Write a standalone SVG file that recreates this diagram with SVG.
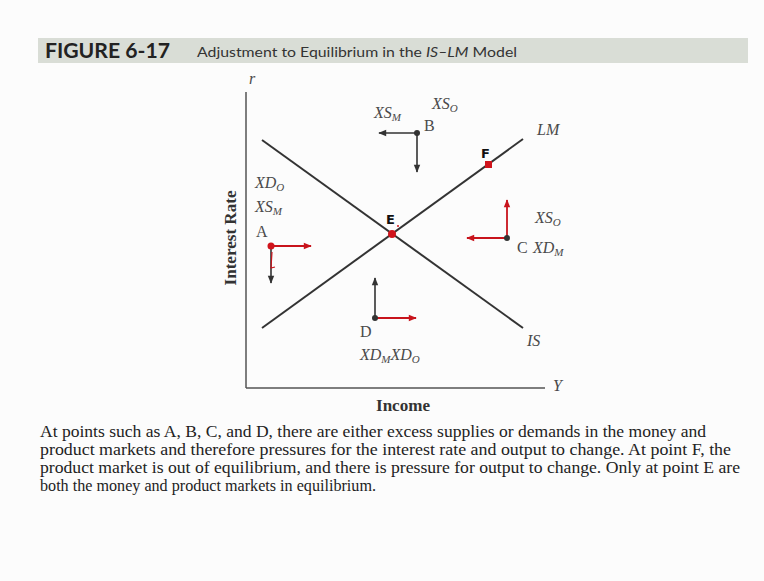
<svg xmlns="http://www.w3.org/2000/svg" width="764" height="581" viewBox="0 0 764 581">
<style>
.ax{stroke:#555;stroke-width:1.5;fill:none}
.ln{stroke:#333;stroke-width:2;fill:none}
.ab{stroke:#333;stroke-width:1.6;fill:none}
.ar{stroke:#c8141c;stroke-width:1.8;fill:none}
.lbl{font-family:"Liberation Serif",serif;font-style:italic;font-size:16px;fill:#4a4a4a}
.sub{font-size:11px}
.pt{font-family:"Liberation Serif",serif;font-size:16px;fill:#4a4a4a}
.cap{font-family:"Liberation Serif",serif;font-size:16px;fill:#222}
</style>
<defs>
<marker id="mb" viewBox="0 0 10 10" refX="9" refY="5" markerWidth="9" markerHeight="8" orient="auto" markerUnits="userSpaceOnUse"><path d="M0,1 L10,5 L0,9 Z" fill="#333"/></marker>
<marker id="mr" viewBox="0 0 10 10" refX="9" refY="5" markerWidth="10" markerHeight="8" orient="auto" markerUnits="userSpaceOnUse"><path d="M0,1 L10,5 L0,9 Z" fill="#c8141c"/></marker>
</defs>
<rect width="764" height="581" fill="#fcfcfc"/>
<g id="title">
<rect x="38" y="38" width="710" height="25" fill="#d9ddd6"/>
<text x="45" y="58" font-family="Lato,sans-serif" font-weight="700" font-size="20" fill="#222" textLength="125" lengthAdjust="spacingAndGlyphs">FIGURE 6-17</text>
<text x="197" y="57" font-family="Lato,sans-serif" font-size="14" fill="#333" textLength="320" lengthAdjust="spacingAndGlyphs">Adjustment to Equilibrium in the <tspan font-style="italic">IS–LM</tspan> Model</text>
</g>
<g id="axes">
<line class="ax" x1="246" y1="92" x2="246" y2="388"/>
<line class="ax" x1="246" y1="388" x2="545" y2="388"/>
<text x="249" y="84" class="lbl" font-size="12">r</text>
<text x="553" y="391" class="lbl" font-size="14">Y</text>
<text transform="translate(236,238) rotate(-90)" text-anchor="middle" font-family="Liberation Serif,serif" font-weight="700" font-size="16" fill="#333" textLength="95" lengthAdjust="spacingAndGlyphs">Interest Rate</text>
<text x="403" y="411" text-anchor="middle" font-family="Liberation Serif,serif" font-weight="700" font-size="16" fill="#333" textLength="54" lengthAdjust="spacingAndGlyphs">Income</text>
</g>
<g id="curves">
<line class="ln" x1="262" y1="140" x2="523" y2="328"/>
<line class="ln" x1="262" y1="328" x2="523" y2="139"/>
<text x="537" y="135" class="lbl" font-size="15">LM</text>
<text x="527" y="346" class="lbl" font-size="15">IS</text>
</g>
<g id="connectors">
<line class="ab" x1="417" y1="133" x2="379" y2="133" marker-end="url(#mb)"/>
<line class="ab" x1="417" y1="133" x2="417" y2="172" marker-end="url(#mb)"/>
<line class="ar" x1="271" y1="246" x2="311" y2="246" marker-end="url(#mr)"/>
<line class="ab" x1="271" y1="246" x2="271" y2="283" marker-end="url(#mb)"/>
<path d="M272,252 L271,268 L275,267" stroke="#c8141c" stroke-width="1.2" fill="none"/>
<line class="ar" x1="507" y1="238" x2="467" y2="238" marker-end="url(#mr)"/>
<line class="ar" x1="507" y1="238" x2="507" y2="200" marker-end="url(#mr)"/>
<line class="ab" x1="375" y1="318" x2="375" y2="278" marker-end="url(#mb)"/>
<line class="ar" x1="375" y1="318" x2="416" y2="318" marker-end="url(#mr)"/>
</g>
<g id="nodeE">
<circle cx="392" cy="234" r="4" fill="#d0141c"/>
<circle cx="398" cy="226" r="1" fill="#d0141c"/>
<text x="386" y="224" font-family="DejaVu Sans,sans-serif" font-weight="700" font-size="13" fill="#111">E</text>
</g>
<g id="nodeF">
<rect x="485" y="161" width="7" height="7" fill="#d0141c"/>
<text x="481" y="158" font-family="DejaVu Sans,sans-serif" font-weight="700" font-size="13" fill="#111">F</text>
</g>
<g id="nodeA">
<circle cx="271" cy="246" r="3.5" fill="#d0141c"/>
<text x="256" y="237" class="pt">A</text>
<text x="255" y="188" class="lbl">XD<tspan class="sub" dy="3">O</tspan></text>
<text x="255" y="212" class="lbl">XS<tspan class="sub" dy="3">M</tspan></text>
</g>
<g id="nodeB">
<circle cx="417" cy="133" r="3" fill="#333"/>
<text x="424" y="131" class="pt">B</text>
<text x="374" y="118" class="lbl">XS<tspan class="sub" dy="3">M</tspan></text>
<text x="432" y="109" class="lbl">XS<tspan class="sub" dy="3">O</tspan></text>
</g>
<g id="nodeC">
<circle cx="507" cy="238" r="3" fill="#333"/>
<text x="517" y="253" class="pt">C</text>
<text x="533" y="253" class="lbl">XD<tspan class="sub" dy="3">M</tspan></text>
<text x="535" y="223" class="lbl">XS<tspan class="sub" dy="3">O</tspan></text>
</g>
<g id="nodeD">
<circle cx="375" cy="318" r="3" fill="#333"/>
<text x="360" y="337" class="pt">D</text>
<text x="360" y="360" class="lbl">XD<tspan class="sub" dy="3">M</tspan><tspan dy="-3">XD</tspan><tspan class="sub" dy="3">O</tspan></text>
</g>
<g id="caption">
<text x="40" y="437" class="cap" textLength="666" lengthAdjust="spacingAndGlyphs">At points such as A, B, C, and D, there are either excess supplies or demands in the money and</text>
<text x="40" y="455" class="cap" textLength="691" lengthAdjust="spacingAndGlyphs">product markets and therefore pressures for the interest rate and output to change. At point F, the</text>
<text x="40" y="473" class="cap" textLength="700" lengthAdjust="spacingAndGlyphs">product market is out of equilibrium, and there is pressure for output to change. Only at point E are</text>
<text x="40" y="491" class="cap" textLength="336" lengthAdjust="spacingAndGlyphs">both the money and product markets in equilibrium.</text>
</g>
</svg>
